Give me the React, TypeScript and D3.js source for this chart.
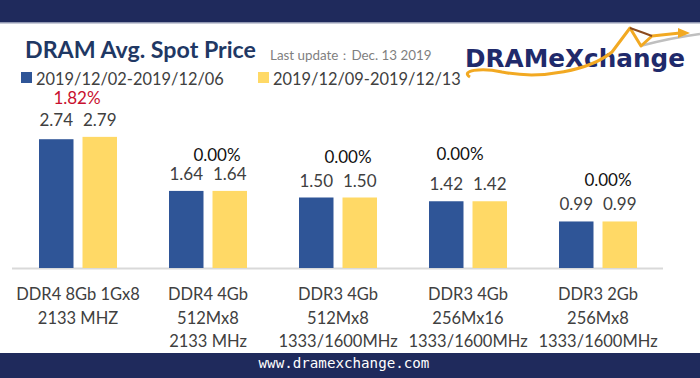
import React from "react";
import * as d3 from "d3";

const categories = [
  ["DDR4 8Gb 1Gx8", "2133 MHZ"],
  ["DDR4 4Gb", "512Mx8", "2133 MHz"],
  ["DDR3 4Gb", "512Mx8", "1333/1600MHz"],
  ["DDR3 4Gb", "256Mx16", "1333/1600MHz"],
  ["DDR3 2Gb", "256Mx8", "1333/1600MHz"],
];
const seriesNames = ["2019/12/02-2019/12/06", "2019/12/09-2019/12/13"];
const week1 = [2.74, 1.64, 1.5, 1.42, 0.99];
const week2 = [2.79, 1.64, 1.5, 1.42, 0.99];
const changes = ["1.82%", "0.00%", "0.00%", "0.00%", "0.00%"];

// layout nudges for the change labels (dx from group centre, dy above value labels)
const changeNudge = [
  [-1, -22],
  [9, -19],
  [10, -24],
  [-8, -30],
  [10, -24],
];

const W = 700;
const H = 378;
const BLUE = "#2F5597";
const YELLOW = "#FFD966";
const NAVY = "#1F2A5C";
const FONT = "Lato, 'Open Sans', sans-serif";

export default function App() {
  const keys = categories.map((_, i) => String(i));
  const x0 = d3.scaleBand<string>().domain(keys).range([13, 663]).paddingInner(0).paddingOuter(0);
  const x1 = d3
    .scaleBand<string>()
    .domain(["a", "b"])
    .range([26, x0.bandwidth() - 26])
    .paddingInner(0.207)
    .paddingOuter(0);
  const y = d3.scaleLinear().domain([0, 3]).range([268, 268 - 141]);
  const fmt = d3.format(".2f");

  return (
    <svg
      width={W}
      height={H}
      style={{ position: "absolute", left: 0, top: 0, display: "block" }}
      fontFamily={FONT}
    >
      <rect x={0} y={0} width={W} height={H} fill="#fff" />
      {/* top band */}
      <rect x={0} y={0} width={W} height={22} fill={NAVY} />
      <rect x={0} y={22} width={W} height={1.5} fill="#4a5580" opacity={0.6} />
      {/* bottom band */}
      <rect x={0} y={353} width={W} height={25} fill={NAVY} />
      <text
        x={W / 2 - 6}
        y={367.5}
        textAnchor="middle"
        fill="#fff"
        fontFamily="'DejaVu Sans Mono', monospace"
        fontSize={14.2}
      >
        www.dramexchange.com
      </text>

      {/* title */}
      <text x={25} y={58} fill="#1F3864" fontWeight={700} fontSize={23.2}>
        DRAM Avg. Spot Price
      </text>
      <text x={270} y={60} fill="#7f7f7f" fontSize={13.4}>
        Last update：Dec. 13  2019
      </text>

      {/* legend */}
      {seriesNames.map((s, i) => {
        const lx = i === 0 ? 21 : 258;
        return (
          <g key={s}>
            <rect x={lx} y={72} width={11} height={11} fill={i === 0 ? BLUE : YELLOW} />
            <text x={lx + 15} y={84.5} fill="#404040" fontSize={16.4}>
              {s}
            </text>
          </g>
        );
      })}

      {/* logo */}
      <g>
        <path
          d="M 700 34 C 670 38, 655 42, 640 46"
          fill="none"
          stroke="#bfbfbf"
          strokeWidth={2.5}
        />
        <text
          x={465}
          y={67}
          fill="#1F2A6B"
          fontFamily="'DejaVu Sans', Verdana, sans-serif"
          fontWeight={700}
          fontSize={25}
          textLength={220}
          lengthAdjust="spacingAndGlyphs"
        >
          DRAMeXchange
        </text>
        <path
          d="M 470 77 C 460 71, 480 67, 502 72 C 542 80, 590 70, 612 52 L 630 28 L 641 46 L 652 36 L 680 33"
          fill="none"
          stroke="#F2A922"
          strokeWidth={3}
          strokeLinejoin="round"
        />
        <path d="M 678 28 L 690 33 L 678 38 Z" fill="#F2A922" />
        <path
          d="M 630 28 L 644 33 L 652 36"
          fill="none"
          stroke="#8B4A1E"
          strokeWidth={2}
        />
      </g>

      {/* axis line */}
      <line x1={12} x2={663} y1={268.5} y2={268.5} stroke="#d9d9d9" strokeWidth={2} />

      {/* bars */}
      {keys.map((k, i) => {
        const gx = x0(k)!;
        const cx = gx + x0.bandwidth() / 2;
        const vals = [week1[i], week2[i]];
        const labY = y(Math.max(...vals)) - 11;
        return (
          <g key={k}>
            {vals.map((v, j) => {
              const bx = gx + x1(j === 0 ? "a" : "b")!;
              return (
                <g key={j}>
                  <rect
                    x={bx}
                    y={y(v)}
                    width={x1.bandwidth()}
                    height={y(0) - y(v)}
                    fill={j === 0 ? BLUE : YELLOW}
                  />
                  <text
                    x={bx + x1.bandwidth() / 2}
                    y={labY}
                    textAnchor="middle"
                    fill="#404040"
                    fontSize={17}
                  >
                    {fmt(v)}
                  </text>
                </g>
              );
            })}
            <text
              x={cx + changeNudge[i][0]}
              y={labY + changeNudge[i][1]}
              textAnchor="middle"
              fill={i === 0 ? "#C8102E" : "#111"}
              fontSize={17}
            >
              {changes[i]}
            </text>
            {categories[i].map((line, li) => (
              <text
                key={li}
                x={cx}
                y={300 + li * 23.5}
                textAnchor="middle"
                fill="#404040"
                fontSize={16.5}
              >
                {line}
              </text>
            ))}
          </g>
        );
      })}
    </svg>
  );
}
